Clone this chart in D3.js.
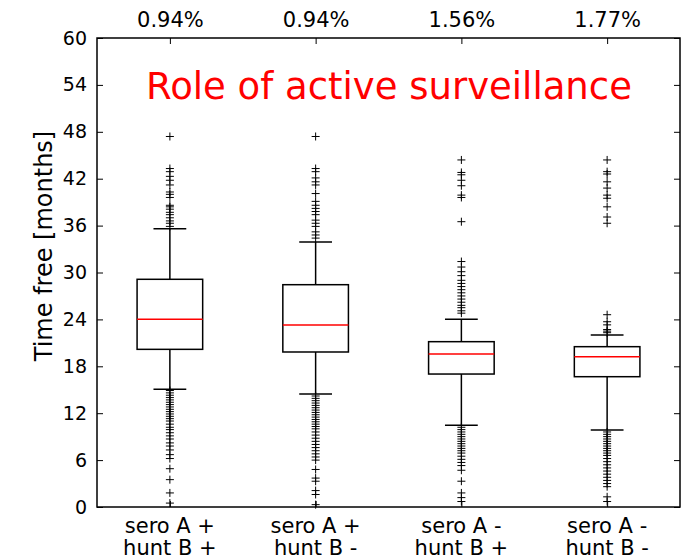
<!DOCTYPE html>
<html>
<head>
    <meta charset="utf-8">
    <script src="https://d3js.org/d3.v7.min.js"></script>
    <style>
        body{
            margin: 0;
            background: #fff;
        }
        text{
            font-family: "DejaVu Sans", sans-serif;
            fill: #000;
        }
    </style>
    <title>Role of active surveillance</title>
</head>
<body>
    <div class="chart-wrap"></div>

    <script>
    // groups, left to right
    var seroLabels = ["sero A +", "sero A +", "sero A -", "sero A -"];
    var huntLabels = ["hunt B +", "hunt B -", "hunt B +", "hunt B -"];
    var percents = ["0.94%", "0.94%", "1.56%", "1.77%"];

    // box statistics (months)
    var q1 = [20.17, 19.83, 17.01, 16.67];
    var medians = [24.01, 23.28, 19.57, 19.23];
    var q3 = [29.13, 28.44, 21.15, 20.51];
    var whiskerLow = [15.06, 14.46, 10.45, 9.85];
    var whiskerHigh = [35.6, 33.9, 24.01, 22.0];

    // fliers
    var fliers1 = [47.4, 43.3, 42.9, 42.3, 41.8, 41.2, 40.3, 40.0, 39.6, 38.6, 38.4, 38.1, 37.7, 37.4, 37.0, 36.6, 36.3, 35.9,
        14.9, 14.6, 14.3, 14.0, 13.7, 13.4, 13.1, 12.8, 12.5, 12.2, 11.9, 11.6, 11.3, 11.0, 10.6, 10.2, 9.9, 9.5, 9.1, 8.7, 8.2, 7.8, 7.3, 6.7, 6.2, 4.9, 3.5, 1.8, 0.5];
    var fliers2 = [47.4, 43.3, 42.9, 42.1, 41.6, 41.2, 40.1, 39.1, 38.6, 38.2, 37.8, 37.4, 36.7, 36.3, 35.9, 35.2, 34.8, 34.4,
        14.2, 13.9, 13.6, 13.3, 13.0, 12.7, 12.4, 12.1, 11.8, 11.5, 11.2, 10.9, 10.6, 10.3, 10.0, 9.6, 9.2, 8.8, 8.4, 8.0, 7.6, 7.2, 6.8, 6.4, 6.0, 4.8, 3.7, 3.3, 2.1, 1.6, 0.3];
    var fliers3 = [44.4, 42.8, 42.5, 41.8, 41.1, 39.9, 39.6, 36.5, 31.4, 30.7, 30.1, 29.6, 29.0, 28.6, 28.2, 27.8, 27.4, 27.0, 26.6, 26.2, 25.8, 25.5, 25.1, 24.8,
        10.2, 9.9, 9.6, 9.3, 9.0, 8.7, 8.4, 8.1, 7.8, 7.5, 7.2, 6.9, 6.5, 6.1, 5.7, 5.3, 4.7, 3.3, 1.8, 1.2, 0.7];
    var fliers4 = [44.4, 42.9, 42.6, 41.6, 40.8, 39.9, 39.5, 38.4, 37.1, 36.3, 24.6, 23.7, 23.3, 22.7, 22.5, 22.3,
        9.6, 9.3, 9.0, 8.7, 8.4, 8.1, 7.8, 7.5, 7.2, 6.9, 6.6, 6.2, 5.8, 5.4, 5.0, 4.6, 4.2, 3.8, 3.4, 3.0, 2.6, 1.3, 0.7];
    var fliers = [fliers1, fliers2, fliers3, fliers4];

    var yTicks = [0, 6, 12, 18, 24, 30, 36, 42, 48, 54, 60];

    var w = 690,
        h = 558,
        plotL = 97, plotR = 680, plotT = 38, plotB = 507;

    var svg = d3.select(".chart-wrap").append("svg")
        .attr("width", w)
        .attr("height", h);

    var x = d3.scaleLinear().domain([0.5, 4.5]).range([plotL, plotR]);
    var y = d3.scaleLinear().domain([0, 60]).range([plotB, plotT]);
    var positions = [1, 2, 3, 4];
    var boxW = 0.45;

    // axes with inward ticks
    function styleAxis(g) {
        g.select(".domain").remove();
        g.selectAll(".tick line").attr("stroke", "#000").attr("stroke-width", 1);
    }

    svg.append("g")
        .attr("transform", "translate(" + plotL + ",0)")
        .call(d3.axisLeft(y).tickValues(yTicks).tickSize(-6).tickPadding(10).tickFormat(d3.format("d")))
        .call(styleAxis)
        .selectAll("text")
        .style("font-size", "19px")
        .attr("font-family", null);

    svg.append("g")
        .attr("transform", "translate(" + plotR + ",0)")
        .call(d3.axisRight(y).tickValues(yTicks).tickSize(-6).tickFormat(""))
        .call(styleAxis);

    svg.append("g")
        .attr("transform", "translate(0," + plotT + ")")
        .call(d3.axisTop(x).tickValues(positions).tickSize(-6).tickPadding(11)
            .tickFormat(function (d) { return percents[d - 1]; }))
        .call(styleAxis)
        .selectAll("text")
        .style("font-size", "21px")
        .attr("font-family", null);

    svg.append("g")
        .attr("transform", "translate(0," + plotB + ")")
        .call(d3.axisBottom(x).tickValues(positions).tickSize(-6).tickFormat(""))
        .call(styleAxis);

    // two-line category labels
    var xl = svg.append("g").selectAll("text")
        .data(positions)
        .enter().append("text")
        .attr("text-anchor", "middle")
        .style("font-size", "21px");
    xl.append("tspan")
        .attr("x", function (d) { return x(d); })
        .attr("y", 533)
        .text(function (d) { return seroLabels[d - 1]; });
    xl.append("tspan")
        .attr("x", function (d) { return x(d); })
        .attr("y", 555)
        .text(function (d) { return huntLabels[d - 1]; });

    // y label
    svg.append("text")
        .attr("transform", "translate(52,246) rotate(-90)")
        .attr("text-anchor", "middle")
        .style("font-size", "24px")
        .text("Time free [months]");

    // boxes
    var boxes = svg.append("g").selectAll("g")
        .data(positions)
        .enter().append("g");

    boxes.append("line")
        .attr("x1", function (d) { return x(d); })
        .attr("x2", function (d) { return x(d); })
        .attr("y1", function (d) { return y(q3[d - 1]); })
        .attr("y2", function (d) { return y(whiskerHigh[d - 1]); });
    boxes.append("line")
        .attr("x1", function (d) { return x(d); })
        .attr("x2", function (d) { return x(d); })
        .attr("y1", function (d) { return y(q1[d - 1]); })
        .attr("y2", function (d) { return y(whiskerLow[d - 1]); });
    boxes.append("line")
        .attr("x1", function (d) { return x(d - boxW / 4); })
        .attr("x2", function (d) { return x(d + boxW / 4); })
        .attr("y1", function (d) { return y(whiskerHigh[d - 1]); })
        .attr("y2", function (d) { return y(whiskerHigh[d - 1]); });
    boxes.append("line")
        .attr("x1", function (d) { return x(d - boxW / 4); })
        .attr("x2", function (d) { return x(d + boxW / 4); })
        .attr("y1", function (d) { return y(whiskerLow[d - 1]); })
        .attr("y2", function (d) { return y(whiskerLow[d - 1]); });
    boxes.selectAll("line")
        .attr("stroke", "#000")
        .attr("stroke-width", 1.5);

    boxes.append("rect")
        .attr("x", function (d) { return x(d - boxW / 2); })
        .attr("width", function (d) { return x(d + boxW / 2) - x(d - boxW / 2); })
        .attr("y", function (d) { return y(q3[d - 1]); })
        .attr("height", function (d) { return y(q1[d - 1]) - y(q3[d - 1]); })
        .attr("fill", "none")
        .attr("stroke", "#000")
        .attr("stroke-width", 1.5);

    boxes.append("line")
        .attr("x1", function (d) { return x(d - boxW / 2); })
        .attr("x2", function (d) { return x(d + boxW / 2); })
        .attr("y1", function (d) { return y(medians[d - 1]); })
        .attr("y2", function (d) { return y(medians[d - 1]); })
        .attr("stroke", "#ff0000")
        .attr("stroke-width", 1.5);

    // fliers as plus markers
    boxes.each(function (d) {
        d3.select(this).selectAll("path.flier")
            .data(fliers[d - 1])
            .enter().append("path")
            .attr("class", "flier")
            .attr("d", function (v) {
                var cx = x(d), cy = y(v);
                return "M" + (cx - 4) + "," + cy + "H" + (cx + 4) + "M" + cx + "," + (cy - 4) + "V" + (cy + 4);
            })
            .attr("stroke", "#000")
            .attr("stroke-width", 1);
    });

    // frame
    svg.append("rect")
        .attr("x", plotL)
        .attr("y", plotT)
        .attr("width", plotR - plotL)
        .attr("height", plotB - plotT)
        .attr("fill", "none")
        .attr("stroke", "#000")
        .attr("stroke-width", 1.5);

    // title inside plot
    svg.append("text")
        .attr("x", 389)
        .attr("y", 99)
        .attr("text-anchor", "middle")
        .style("font-size", "37px")
        .style("fill", "#ff0000")
        .text("Role of active surveillance");
    </script>
</body>
</html>
